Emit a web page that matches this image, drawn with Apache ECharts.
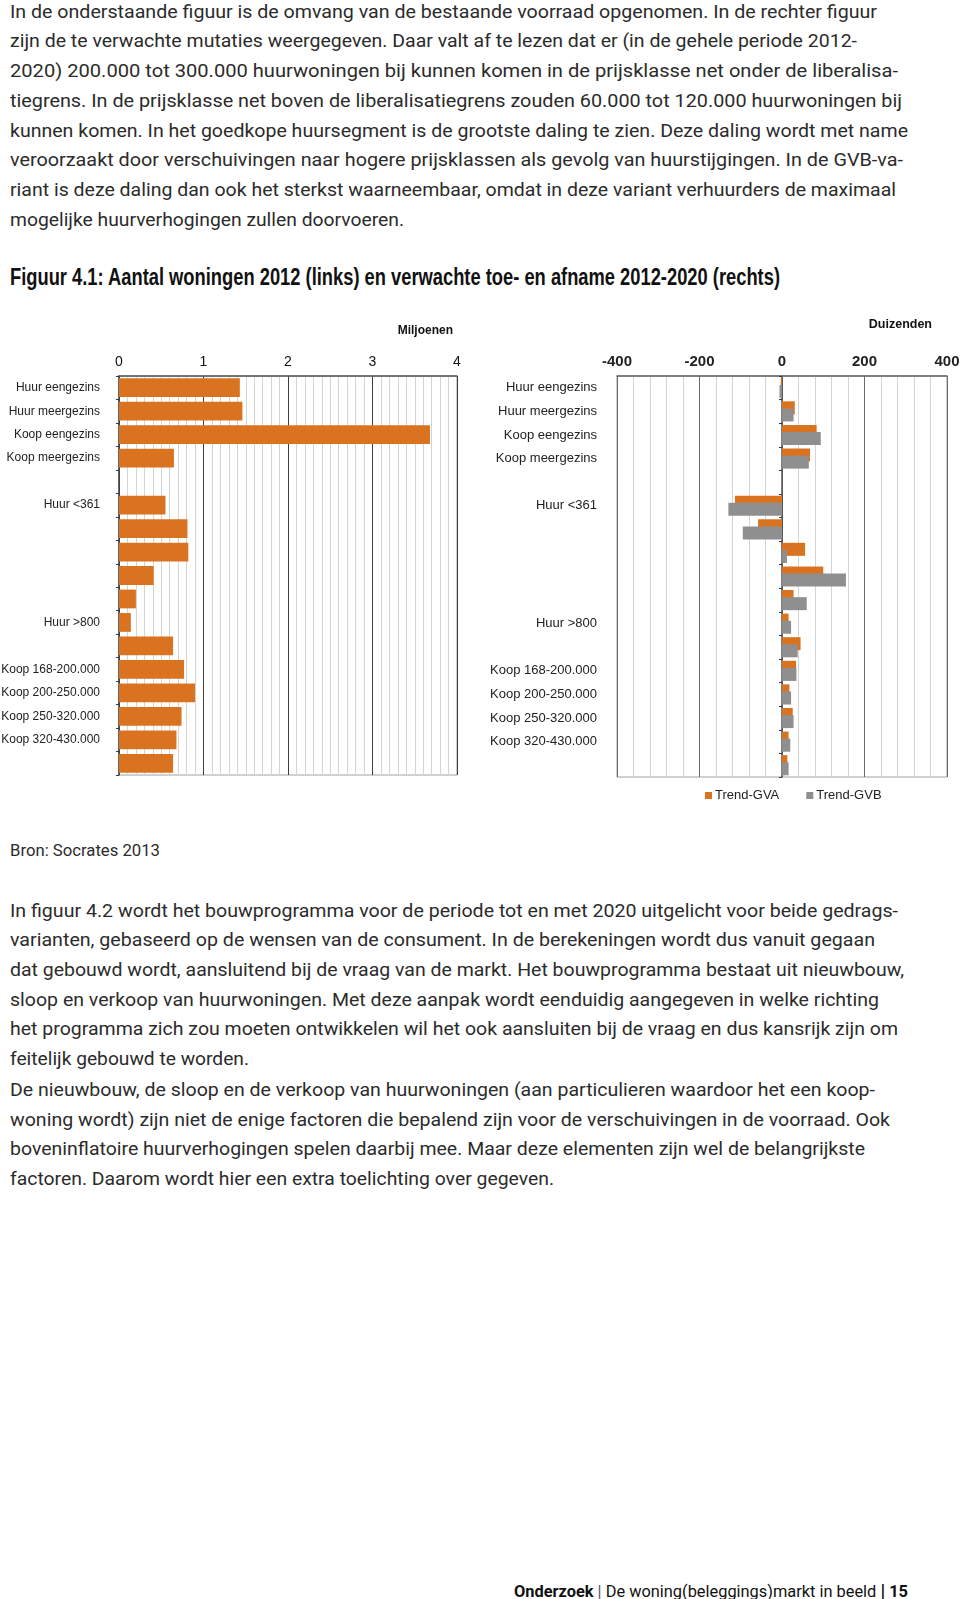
<!DOCTYPE html>
<html><head><meta charset="utf-8">
<script src="https://cdn.jsdelivr.net/npm/echarts@6/dist/echarts.min.js"></script>
<style>
html,body{margin:0;padding:0;background:#fff;}
body{width:960px;height:1599px;position:relative;overflow:hidden;font-family:Roboto,"Liberation Sans",sans-serif;color:#2b2b2b;}
.blk{position:absolute;left:10px;font-size:18px;line-height:29.7px;white-space:nowrap;}
.ln{display:inline-block;transform-origin:0 50%;white-space:nowrap;}
#title{position:absolute;left:10px;top:264px;font-family:"Liberation Sans",sans-serif;font-weight:bold;font-size:23.5px;line-height:27px;white-space:nowrap;color:#111;}
#bron{position:absolute;left:10px;top:841px;font-size:16px;line-height:20px;white-space:nowrap;}
#foot{position:absolute;left:514px;top:1581px;font-size:16.5px;line-height:20px;white-space:nowrap;color:#111;}
#chart{position:absolute;left:0;top:300px;width:960px;height:520px;}
</style></head>
<body>
<div class="blk" style="top:-3.3px">
<span class="ln" data-w="867">In de onderstaande figuur is de omvang van de bestaande voorraad opgenomen. In de rechter figuur</span><br>
<span class="ln" data-w="847">zijn de te verwachte mutaties weergegeven. Daar valt af te lezen dat er (in de gehele periode 2012-</span><br>
<span class="ln" data-w="888">2020) 200.000 tot 300.000 huurwoningen bij kunnen komen in de prijsklasse net onder de liberalisa-</span><br>
<span class="ln" data-w="892">tiegrens. In de prijsklasse net boven de liberalisatiegrens zouden 60.000 tot 120.000 huurwoningen bij</span><br>
<span class="ln" data-w="898">kunnen komen. In het goedkope huursegment is de grootste daling te zien. Deze daling wordt met name</span><br>
<span class="ln" data-w="893">veroorzaakt door verschuivingen naar hogere prijsklassen als gevolg van huurstijgingen. In de GVB-va-</span><br>
<span class="ln" data-w="886">riant is deze daling dan ook het sterkst waarneembaar, omdat in deze variant verhuurders de maximaal</span><br>
<span class="ln" data-w="394">mogelijke huurverhogingen zullen doorvoeren.</span>
</div>
<div id="title"><span class="ln" data-w="770">Figuur 4.1: Aantal woningen 2012 (links) en verwachte toe- en afname 2012-2020 (rechts)</span></div>
<div id="chart"></div>
<div id="bron"><span class="ln" data-w="150">Bron: Socrates 2013</span></div>
<div class="blk" style="top:895.5px">
<span class="ln" data-w="888">In figuur 4.2 wordt het bouwprogramma voor de periode tot en met 2020 uitgelicht voor beide gedrags-</span><br>
<span class="ln" data-w="865">varianten, gebaseerd op de wensen van de consument. In de berekeningen wordt dus vanuit gegaan</span><br>
<span class="ln" data-w="894">dat gebouwd wordt, aansluitend bij de vraag van de markt. Het bouwprogramma bestaat uit nieuwbouw,</span><br>
<span class="ln" data-w="869">sloop en verkoop van huurwoningen. Met deze aanpak wordt eenduidig aangegeven in welke richting</span><br>
<span class="ln" data-w="888">het programma zich zou moeten ontwikkelen wil het ook aansluiten bij de vraag en dus kansrijk zijn om</span><br>
<span class="ln" data-w="239">feitelijk gebouwd te worden.</span>
</div>
<div class="blk" style="top:1075px">
<span class="ln" data-w="865">De nieuwbouw, de sloop en de verkoop van huurwoningen (aan particulieren waardoor het een koop-</span><br>
<span class="ln" data-w="880">woning wordt) zijn niet de enige factoren die bepalend zijn voor de verschuivingen in de voorraad. Ook</span><br>
<span class="ln" data-w="855">boveninflatoire huurverhogingen spelen daarbij mee. Maar deze elementen zijn wel de belangrijkste</span><br>
<span class="ln" data-w="544">factoren. Daarom wordt hier een extra toelichting over gegeven.</span>
</div>
<div id="foot"><span class="ln" data-w="394"><b>Onderzoek</b> <span style="color:#555">|</span> De woning(beleggings)markt in beeld <b style="font-size:19px">|</b> <b>15</b></span></div>
<script>
// ---- data ----
const categories = ['Huur eengezins','Huur meergezins','Koop eengezins','Koop meergezins','','Huur <361','','','','','Huur >800','','Koop 168-200.000','Koop 200-250.000','Koop 250-320.000','Koop 320-430.000',''];
const stock2012 = [1.43,1.46,3.68,0.65,null,0.55,0.81,0.82,0.41,0.20,0.14,0.64,0.77,0.90,0.74,0.68,0.64];
const trendGVA = [-3,31,84,68,null,-114,-58,56,100,28,16,45,34,18,26,16,13];
const trendGVB = [-6,28,94,65,null,-130,-95,12,155,60,22,38,35,22,28,20,16];
const seriesNames = ['Trend-GVA','Trend-GVB'];
const leftUnit = 'Miljoenen';
const rightUnit = 'Duizenden';

// ---- text fit ----
document.querySelectorAll('[data-w]').forEach(el=>{
  const w = el.getBoundingClientRect().width;
  const t = +el.dataset.w;
  if (w > 0) el.style.transform = 'scaleX(' + (t / w) + ')';
});

// ---- chart ----
const orange = '#D9731F', gray = '#8F8F8F';
const sans = '"Liberation Sans",Arial,sans-serif';
const chart = echarts.init(document.getElementById('chart'));
chart.setOption({
  animation: false,
  textStyle: {fontFamily: sans},
  grid: [
    {left: 119, top: 76, width: 338, height: 399, show: true, borderColor: '#a0a0a0', borderWidth: 1, containLabel: false, outerBoundsMode: 'none'},
    {left: 617, top: 76, width: 330, height: 401, show: true, borderColor: '#a0a0a0', borderWidth: 1, containLabel: false, outerBoundsMode: 'none'}
  ],
  xAxis: [
    {gridIndex: 0, type: 'value', position: 'top', min: 0, max: 4, interval: 1,
     axisLine: {show: true, onZero: false, lineStyle: {color: '#555', width: 1.5}},
     axisTick: {show: false},
     axisLabel: {margin: 7, fontSize: 14, color: '#111'},
     splitLine: {show: true, lineStyle: {color: '#3c3c3c', width: 1}},
     minorTick: {show: false, splitNumber: 10},
     minorSplitLine: {show: true, lineStyle: {color: '#d4d4d4', width: 1}}},
    {gridIndex: 1, type: 'value', position: 'top', min: -400, max: 400, interval: 200,
     axisLine: {show: true, onZero: false, lineStyle: {color: '#666', width: 1.5}},
     axisTick: {show: false},
     axisLabel: {margin: 7, fontSize: 15, fontWeight: 'bold', color: '#222'},
     splitLine: {show: true, lineStyle: {color: '#6a6a6a', width: 1}},
     minorTick: {show: false, splitNumber: 5},
     minorSplitLine: {show: true, lineStyle: {color: '#d4d4d4', width: 1}}}
  ],
  yAxis: [
    {gridIndex: 0, type: 'category', data: categories, inverse: true, position: 'left',
     axisLine: {show: true, onZero: false, lineStyle: {color: '#444', width: 1.5}},
     axisTick: {show: true, length: 3, interval: 0, lineStyle: {color: '#2b3a55'}},
     axisLabel: {interval: 0, margin: 19, fontSize: 12, color: '#222'}},
    {gridIndex: 1, type: 'category', data: categories, inverse: true, position: 'left',
     axisLine: {show: false, onZero: false}, axisTick: {show: false},
     axisLabel: {interval: 0, margin: 20, fontSize: 13, color: '#222'}},
    {gridIndex: 1, type: 'category', data: categories, inverse: true, position: 'left',
     axisLine: {show: true, onZero: true, lineStyle: {color: '#555', width: 1.5}},
     axisTick: {show: true, length: 3, interval: 0, lineStyle: {color: '#2b3a55'}},
     axisLabel: {show: false}}
  ],
  legend: {
    data: seriesNames, left: 700, top: 484, icon: 'rect', itemWidth: 7, itemHeight: 7, itemGap: 27,
    textStyle: {fontSize: 13, color: '#222', padding: [0, 0, 0, -2]}
  },
  graphic: [
    {type: 'text', x: 453, y: 30.5, style: {text: leftUnit, align: 'right', verticalAlign: 'middle', font: 'bold 12px "Liberation Sans", Arial, sans-serif', fill: '#111'}},
    {type: 'text', x: 932, y: 25, style: {text: rightUnit, align: 'right', verticalAlign: 'middle', font: 'bold 12.5px "Liberation Sans", Arial, sans-serif', fill: '#111'}}
  ],
  series: [
    {type: 'bar', xAxisIndex: 0, yAxisIndex: 0, data: stock2012, barCategoryGap: '20%', itemStyle: {color: orange}},
    {type: 'bar', name: seriesNames[0], xAxisIndex: 1, yAxisIndex: 1, data: trendGVA, barWidth: 13, barGap: '-45%', itemStyle: {color: orange}},
    {type: 'bar', name: seriesNames[1], xAxisIndex: 1, yAxisIndex: 1, data: trendGVB, barWidth: 13, barGap: '-45%', itemStyle: {color: gray}}
  ]
});
</script>
</body></html>
